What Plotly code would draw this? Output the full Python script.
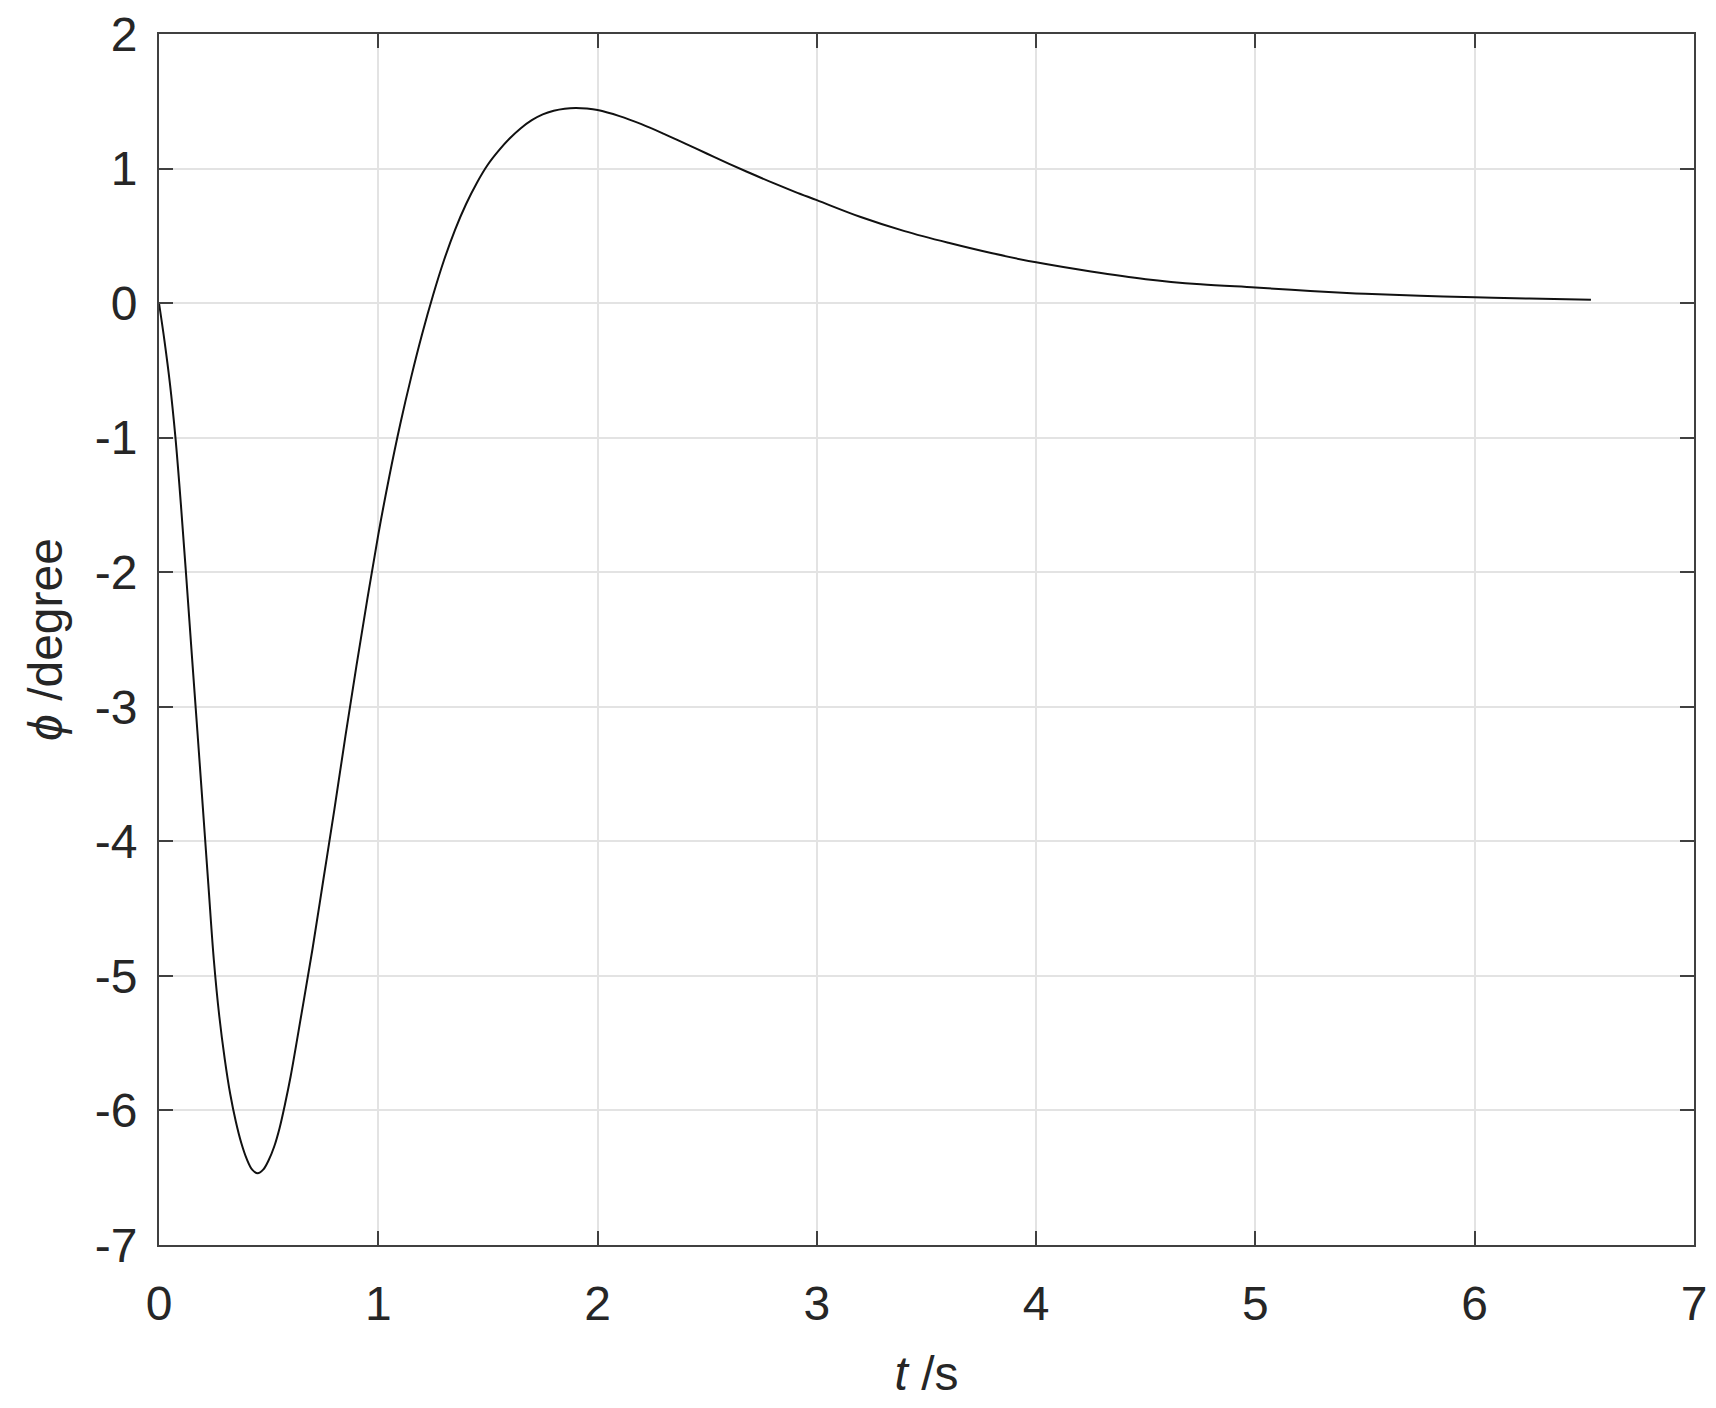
import plotly.graph_objects as go

# time (s) and roll angle phi (degree)
t_s = [0, 0.025, 0.05, 0.075, 0.1, 0.125, 0.15, 0.175, 0.2, 0.225, 0.25, 0.275,
       0.3, 0.325, 0.35, 0.375, 0.4, 0.425, 0.45, 0.475, 0.5, 0.525, 0.55, 0.575,
       0.6, 0.65, 0.7, 0.75, 0.8, 0.85, 0.9, 0.95, 1.0, 1.05, 1.1, 1.15, 1.2,
       1.25, 1.3, 1.35, 1.4, 1.45, 1.5, 1.55, 1.6, 1.65, 1.7, 1.75, 1.8, 1.85,
       1.9, 1.95, 2.0, 2.1, 2.2, 2.3, 2.4, 2.5, 2.6, 2.7, 2.8, 2.9, 3.0, 3.2,
       3.4, 3.6, 3.8, 4.0, 4.25, 4.5, 4.75, 5.0, 5.25, 5.5, 5.75, 6.0, 6.25, 6.53]
phi_deg = [0, -0.28, -0.6, -1.0, -1.5, -2.05, -2.62, -3.18, -3.75, -4.32, -4.88, -5.3,
           -5.62, -5.88, -6.08, -6.24, -6.36, -6.44, -6.467, -6.44, -6.37, -6.27, -6.13, -5.95,
           -5.75, -5.28, -4.8, -4.28, -3.76, -3.22, -2.7, -2.2, -1.72, -1.29, -0.9, -0.55, -0.23,
           0.06, 0.32, 0.545, 0.735, 0.895, 1.03, 1.135, 1.225, 1.3, 1.36, 1.403, 1.43, 1.445,
           1.45, 1.446, 1.435, 1.39, 1.33, 1.26, 1.185, 1.11, 1.035, 0.963, 0.893, 0.827, 0.765, 0.64,
           0.535, 0.448, 0.37, 0.303, 0.235, 0.178, 0.14, 0.116, 0.09, 0.069, 0.055, 0.044, 0.034, 0.025]

x_ticks = [0, 1, 2, 3, 4, 5, 6, 7]
y_ticks = [2, 1, 0, -1, -2, -3, -4, -5, -6, -7]

FONT = "Liberation Sans, Arial, Helvetica, sans-serif"
AX = "#404040"
TXT = "#262626"
GRID = "#e3e3e3"
FS = 48

fig = go.Figure()
fig.add_trace(go.Scatter(x=t_s, y=phi_deg, mode="lines",
                         line=dict(color="#111111", width=2, shape="spline", smoothing=1.0),
                         showlegend=False))

axis_common = dict(
    showline=True, linecolor=AX, linewidth=2, mirror="ticks",
    ticks="inside", ticklen=14, tickwidth=2, tickcolor=AX,
    showgrid=True, gridcolor=GRID, gridwidth=1.5, zeroline=False,
    tickfont=dict(family=FONT, size=FS, color=TXT),
    ticklabeloverflow="allow",
    automargin=False,
)

fig.update_xaxes(range=[0, 7], tickvals=x_ticks, ticktext=[str(v) for v in x_ticks],
                 title=dict(text="<i>t</i> /s", font=dict(family=FONT, size=FS, color=TXT), standoff=36),
                 ticklabelstandoff=15, **axis_common)
fig.update_yaxes(range=[-7, 2], tickvals=y_ticks, ticktext=[str(v) for v in y_ticks],
                 title=dict(text="<i>ϕ</i> /degree", font=dict(family=FONT, size=FS, color=TXT), standoff=17),
                 ticklabelstandoff=10, **axis_common)

# page body has an 8px margin: figure is 1700x1392 so plot area lands where the reference has it
fig.update_layout(
    width=1700, height=1392,
    margin=dict(l=151, r=14, t=26, b=155, autoexpand=False),
    paper_bgcolor="white", plot_bgcolor="white",
    font=dict(family=FONT, color=TXT),
)

fig.write_html("out.html")
